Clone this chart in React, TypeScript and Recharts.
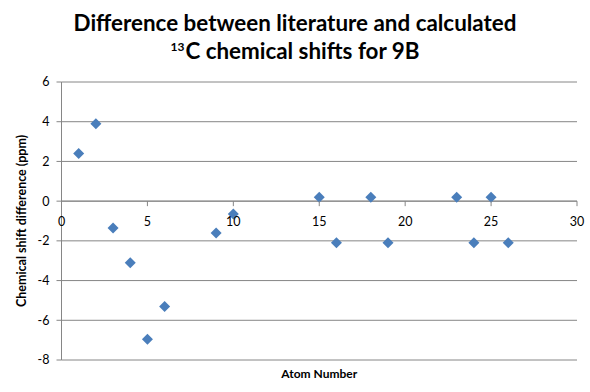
import React from 'react';
import { ScatterChart, Scatter, XAxis, YAxis, CartesianGrid, ReferenceLine } from 'recharts';

const atomNumbers = [1, 2, 3, 4, 5, 6, 9, 10, 15, 16, 18, 19, 23, 24, 25, 26];
const shiftDiff = [2.4, 3.9, -1.35, -3.1, -6.95, -5.3, -1.6, -0.65, 0.2, -2.1, 0.2, -2.1, 0.2, -2.1, 0.2, -2.1];
const xTicks = [0, 5, 10, 15, 20, 25, 30];
const yTicks = [-8, -6, -4, -2, 0, 2, 4, 6];
const titleLine1 = 'Difference between literature and calculated';
const titleLine2Sup = '13';
const titleLine2 = 'C chemical shifts for 9B';
const xLabel = 'Atom Number';
const yLabel = 'Chemical shift difference  (ppm)';

const data = atomNumbers.map((a, i) => ({ x: a, y: shiftDiff[i] }));

const W = 590;
const H = 392;
const MARGIN = { top: 82, right: 13, bottom: 0, left: 0 };
const X_AXIS_H = 32;
const Y_AXIS_W = 61.5;
const Y_MIN = -8;
const Y_MAX = 6;
const PLOT_TOP = MARGIN.top;
const PLOT_BOTTOM = H - MARGIN.bottom - X_AXIS_H;
const ZERO_Y = PLOT_TOP + ((Y_MAX - 0) / (Y_MAX - Y_MIN)) * (PLOT_BOTTOM - PLOT_TOP);

const GRID = '#868686';
const BLUE = '#4A7EBB';
const FONT = 'Lato, "Open Sans", sans-serif';

const XTick = (props: any) => {
  const { x, payload } = props;
  return (
    <g>
      <line x1={x} x2={x} y1={ZERO_Y} y2={ZERO_Y + 5} stroke={GRID} strokeWidth={1} />
      <text x={x} y={ZERO_Y + 22} textAnchor="middle" dominantBaseline="middle" fontSize={12.5} fill="#000" fontFamily={FONT}>
        {payload.value}
      </text>
    </g>
  );
};

const Diamond = (props: any) => {
  const { cx, cy } = props;
  const r = 5.5;
  return <polygon points={`${cx},${cy - r} ${cx + r},${cy} ${cx},${cy + r} ${cx - r},${cy}`} fill={BLUE} />;
};

export default function App() {
  return (
    <div style={{ position: 'absolute', left: 0, top: 0, width: W, height: H, background: '#fff' }}>
      <div
        style={{
          position: 'absolute',
          left: 0,
          top: 9,
          width: W,
          textAlign: 'center',
          fontFamily: FONT,
          fontWeight: 700,
          fontSize: 22.4,
          lineHeight: '28px',
          color: '#000',
        }}
      >
        <div>{titleLine1}</div>
        <div>
          <span style={{ fontSize: 12, position: 'relative', top: -8, marginRight: 1 }}>{titleLine2Sup}</span>
          {titleLine2}
        </div>
      </div>
      <ScatterChart width={W} height={H} margin={MARGIN}>
        <CartesianGrid vertical={false} stroke={GRID} />
        <XAxis
          type="number"
          dataKey="x"
          domain={[0, 30]}
          ticks={xTicks}
          height={X_AXIS_H}
          axisLine={false}
          tickLine={false}
          tick={<XTick />}
          interval={0}
          label={{ value: xLabel, position: 'insideBottom', offset: 14, fontSize: 12, fontWeight: 700, fill: '#000', fontFamily: FONT }}
        />
        <YAxis
          type="number"
          dataKey="y"
          domain={[Y_MIN, Y_MAX]}
          ticks={yTicks}
          width={Y_AXIS_W}
          axisLine={{ stroke: GRID }}
          tickLine={{ stroke: GRID }}
          tickSize={5}
          tickMargin={7}
          interval={0}
          tick={{ fontSize: 12.5, fill: '#000', fontFamily: FONT }}
          label={{ value: yLabel, angle: -90, position: 'insideLeft', offset: 22, fontSize: 12.5, fontWeight: 700, fill: '#000', fontFamily: FONT, style: { textAnchor: 'middle' } }}
        />
        <ReferenceLine y={0} stroke={GRID} />
        <Scatter data={data} shape={<Diamond />} isAnimationActive={false} />
      </ScatterChart>
    </div>
  );
}
